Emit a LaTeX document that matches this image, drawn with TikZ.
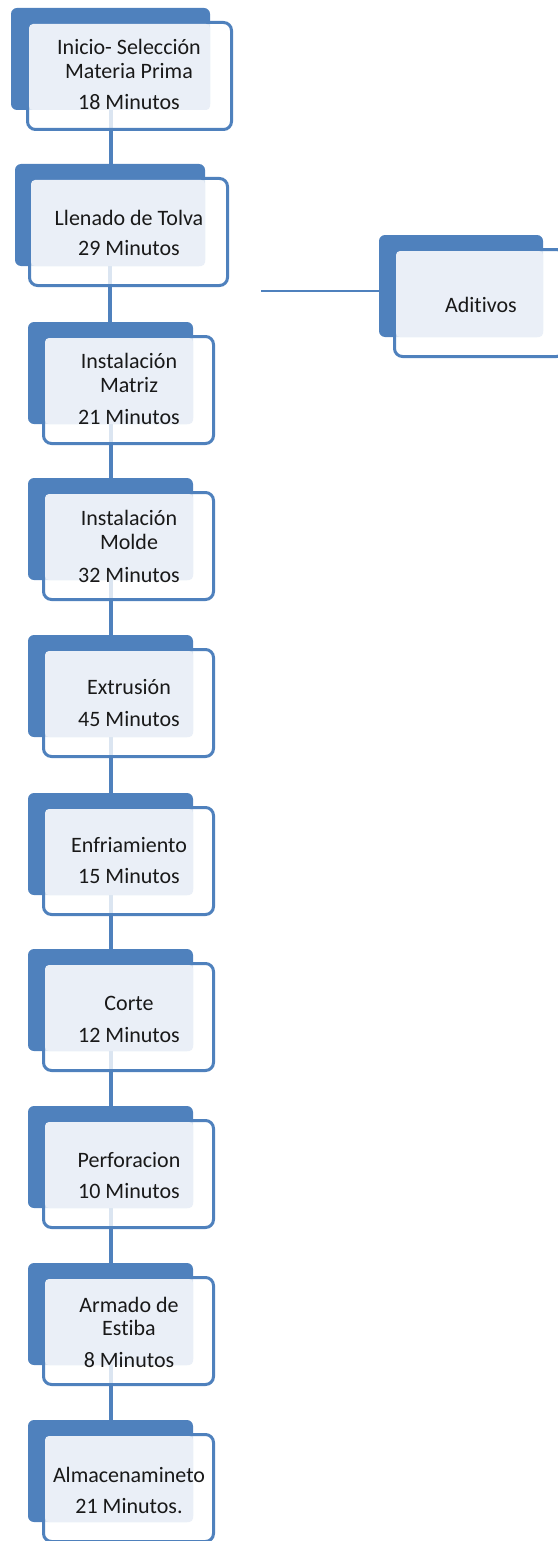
\documentclass[tikz,border=0pt]{standalone}
\usepackage{fontspec}
\setmainfont{Carlito}[Ligatures=NoCommon]
\usetikzlibrary{calc}
\definecolor{accent}{HTML}{4F81BD}
\definecolor{lightbox}{HTML}{EAEFF7}
\begin{document}
\begin{tikzpicture}[x=1pt,y=-1pt,
  backbox/.style={rectangle, rounded corners=6pt, fill=accent, draw=none, inner sep=0pt, outer sep=0pt, minimum height=102pt},
  frontbox/.style={rectangle, rounded corners=8pt, draw=accent, line width=3pt, fill=white, fill opacity=0.8, inner sep=0pt, outer sep=0pt, minimum height=107pt},
  lightfill/.style={fill=lightbox, rounded corners=4pt},
  conn/.style={draw=accent, line width=4pt},
  hconn/.style={draw=accent, line width=1.5pt},
  lbl/.style={font=\fontsize{22}{24}\selectfont, anchor=base, inner sep=0pt, text=black!90}]
\useasboundingbox (0,0) rectangle (557,1541);
% back boxes
\node[backbox, minimum width=199pt] (bk1) at (110.5,59) {};
\node[backbox, minimum width=190pt] (bk2) at (110,215) {};
\node[backbox, minimum width=165pt] (bk3) at (110.5,373) {};
\node[backbox, minimum width=165pt] (bk4) at (110.5,529) {};
\node[backbox, minimum width=165pt] (bk5) at (110.5,686) {};
\node[backbox, minimum width=165pt] (bk6) at (110.5,844) {};
\node[backbox, minimum width=165pt] (bk7) at (110.5,1000) {};
\node[backbox, minimum width=165pt] (bk8) at (110.5,1157) {};
\node[backbox, minimum width=165pt] (bk9) at (110.5,1314) {};
\node[backbox, minimum width=165pt] (bk10) at (110.5,1471) {};
\node[backbox, minimum width=164pt] (bkA) at (461,286) {};
% connectors
\foreach \a/\b in {1/2,2/3,3/4,4/5,5/6,6/7,7/8,8/9,9/10}
  \draw[conn] (bk\a.south) -- (bk\a.south |- bk\b.north);
\coordinate (hstart) at (261,291);
\draw[hconn] (hstart) -- (hstart -| bkA.west);
% front boxes
\node[frontbox, minimum width=204pt] (fr1) at (129.5,76) {};
\node[frontbox, minimum width=198pt] (fr2) at (128.5,232) {};
\node[frontbox, minimum width=170pt] (fr3) at (128.5,390) {};
\node[frontbox, minimum width=170pt] (fr4) at (128.5,546) {};
\node[frontbox, minimum width=170pt] (fr5) at (128.5,703) {};
\node[frontbox, minimum width=170pt] (fr6) at (128.5,861) {};
\node[frontbox, minimum width=170pt] (fr7) at (128.5,1017) {};
\node[frontbox, minimum width=170pt] (fr8) at (128.5,1174) {};
\node[frontbox, minimum width=170pt] (fr9) at (128.5,1331) {};
\node[frontbox, minimum width=170pt] (fr10) at (128.5,1488) {};
\node[frontbox, minimum width=170pt] (frA) at (479.5,303) {};
% light text areas
\foreach \i in {1,2,3,4,5,6,7,8,9,10,A}
  \fill[lightfill] ($(fr\i.north west)+(1.5,1.5)$) rectangle (bk\i.south east);
% texts
\node[lbl] (t1a) at (129,55) {Inicio- Selección};
\node[lbl] (t1b) at (129,79) {Materia Prima};
\node[lbl] (t1c) at (129,110) {18 Minutos};
\node[lbl] (t2a) at (129,225) {Llenado de Tolva};
\node[lbl] (t2b) at (129,255) {29 Minutos};
\node[lbl] (t3a) at (129,368) {Instalación};
\node[lbl] (t3b) at (129,392) {Matriz};
\node[lbl] (t3c) at (129,424) {21 Minutos};
\node[lbl] (t4a) at (129,525) {Instalación};
\node[lbl] (t4b) at (129,549) {Molde};
\node[lbl] (t4c) at (129,582) {32 Minutos};
\node[lbl] (t5a) at (129,694) {Extrusión};
\node[lbl] (t5b) at (129,726) {45 Minutos};
\node[lbl] (t6a) at (129,852) {Enfriamiento};
\node[lbl] (t6b) at (129,883) {15 Minutos};
\node[lbl] (t7a) at (129,1010) {Corte};
\node[lbl] (t7b) at (129,1042) {12 Minutos};
\node[lbl] (t8a) at (129,1167) {Perforacion};
\node[lbl] (t8b) at (129,1198) {10 Minutos};
\node[lbl] (t9a) at (129,1312) {Armado de};
\node[lbl] (t9b) at (129,1335) {Estiba};
\node[lbl] (t9c) at (129,1367) {8 Minutos};
\node[lbl] (t10a) at (129,1482) {Almacenamineto};
\node[lbl] (t10b) at (129,1513) {21 Minutos.};
\node[lbl] (tA) at (481,312) {Aditivos};
\end{tikzpicture}
\end{document}
